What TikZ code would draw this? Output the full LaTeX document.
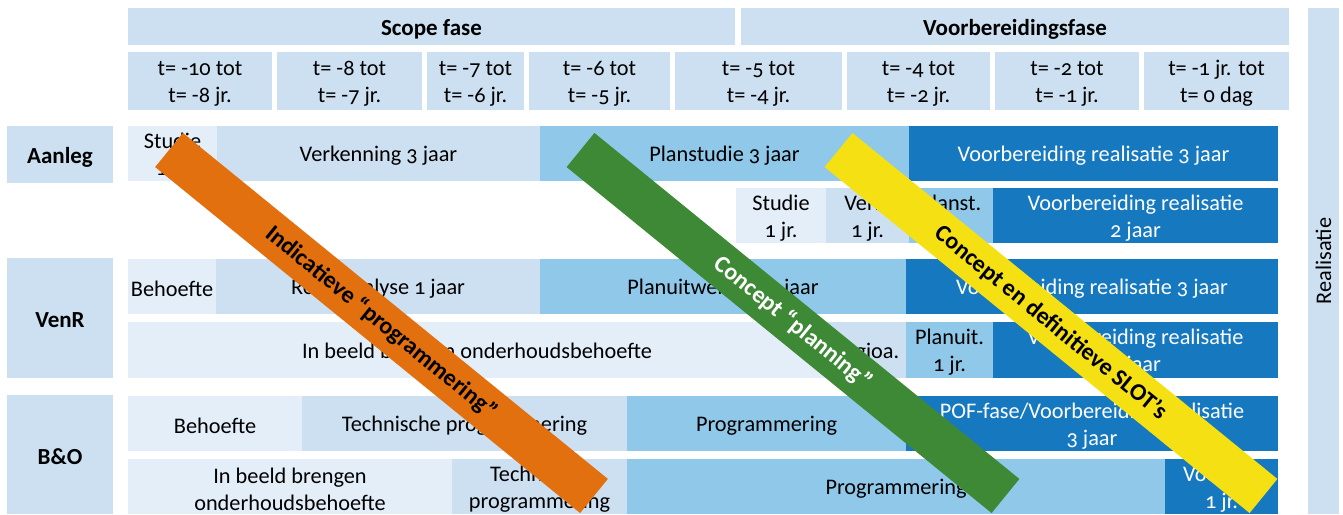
\documentclass[tikz,border=0pt]{standalone}
\usepackage{fontspec}
\setmainfont{Carlito}[Numbers=OldStyle]

\definecolor{tintA}{HTML}{E3EEF8}
\definecolor{tintB}{HTML}{CCE0F1}
\definecolor{tintC}{HTML}{8FC8E8}
\definecolor{tintD}{HTML}{1679C0}
\definecolor{bandOrange}{HTML}{E2700E}
\definecolor{bandGreen}{HTML}{3D8935}
\definecolor{bandYellow}{HTML}{F5E014}

% \cellbox{style}{name}{x1}{y1}{x2}{y2}{text}
% the box is filled first, its text is set slightly below the centre
\newcommand\cellbox[7]{%
  \node[#1, minimum width={#5-#3}, minimum height={#6-#4}] (#2)
    at ({(#3+#5)/2},{(#4+#6)/2}) {};
  \node[#1, fill=none, yshift=-2.5pt] (#2-txt) at (#2.center) {#7};}

\begin{document}
\begin{tikzpicture}[x=1pt,y=-1pt,
  every node/.style={inner sep=0pt, outer sep=0pt},
  cell/.style={rectangle, align=center, text=black,
    font=\fontsize{22.3}{27}\selectfont},
  lightest/.style={cell, fill=tintA},
  light/.style={cell, fill=tintB},
  medium/.style={cell, fill=tintC},
  dark/.style={cell, fill=tintD, text=white},
  headbox/.style={light, font=\bfseries\fontsize{23}{27}\selectfont},
  band/.style={rectangle, minimum width=548, minimum height=44,
    rotate=-39.15, font=\bfseries\fontsize{24}{28}\selectfont}
]
\useasboundingbox (0,0) rectangle (1343,514);

% phase headers
\cellbox{headbox}{scope}{128}{8}{735}{45}{Scope fase}
\cellbox{headbox}{voorb}{741}{8}{1289}{45}{Voorbereidingsfase}

% time columns
\cellbox{light}{t1}{128}{52}{272}{110}{t= -10 tot\\t= -8 jr.}
\cellbox{light}{t2}{277}{52}{422}{110}{t= -8 tot\\t= -7 jr.}
\cellbox{light}{t3}{427}{52}{524}{110}{t= -7 tot\\t= -6 jr.}
\cellbox{light}{t4}{529}{52}{670}{110}{t= -6 tot\\t= -5 jr.}
\cellbox{light}{t5}{675}{52}{842}{110}{t= -5 tot\\t= -4 jr.}
\cellbox{light}{t6}{847}{52}{990}{110}{t= -4 tot\\t= -2 jr.}
\cellbox{light}{t7}{995}{52}{1139}{110}{t= -2 tot\\t= -1 jr.}
\cellbox{light}{t8}{1144}{52}{1289}{110}{t= -1 jr. tot\\t= 0 dag}

% realisation bar
\node[light, minimum width=31, minimum height=506] (realbar) at (1323.5,261) {};
\node[rotate=90, font=\fontsize{22.3}{27}\selectfont] (realtext)
  at (realbar.center) {Realisatie};

% row labels
\cellbox{headbox}{aanleg}{7}{126}{113}{183}{Aanleg}
\cellbox{headbox}{venr}{7}{258}{113}{378}{VenR}
\cellbox{headbox}{beno}{7}{395}{113}{514}{B\&O}

% Aanleg
\cellbox{lightest}{a1}{128}{126}{217}{181}{Studie\\1 jr.}
\cellbox{light}{a2}{217}{126}{540}{181}{Verkenning 3 jaar}
\cellbox{medium}{a3}{540}{126}{909}{181}{Planstudie 3 jaar}
\cellbox{dark}{a4}{909}{126}{1278}{181}{Voorbereiding realisatie 3 jaar}
\cellbox{lightest}{b1}{736}{188}{826}{243}{Studie\\1 jr.}
\cellbox{light}{b2}{826}{188}{909}{243}{Verk.\\1 jr.}
\cellbox{medium}{b3}{909}{188}{993}{243}{Planst.\\1 jr.}
\cellbox{dark}{b4}{993}{188}{1278}{243}{Voorbereiding realisatie\\2 jaar}

% VenR
\cellbox{lightest}{c1}{128}{259}{216}{314}{Behoefte}
\cellbox{light}{c2}{216}{259}{540}{314}{Regioanalyse 1 jaar}
\cellbox{medium}{c3}{540}{259}{906}{314}{Planuitwerking 3 jaar}
\cellbox{dark}{c4}{906}{259}{1278}{314}{Voorbereiding realisatie 3 jaar}
\cellbox{lightest}{d1}{128}{322}{826}{378}{In beeld brengen onderhoudsbehoefte}
\cellbox{light}{d2}{826}{322}{906}{378}{Regioa.}
\cellbox{medium}{d3}{906}{322}{993}{378}{Planuit.\\1 jr.}
\cellbox{dark}{d4}{993}{322}{1278}{378}{Voorbereiding realisatie\\2 jaar}

% B&O
\cellbox{lightest}{e1}{128}{396}{302}{451}{Behoefte}
\cellbox{light}{e2}{302}{396}{627}{451}{Technische programmering}
\cellbox{medium}{e3}{627}{396}{906}{451}{Programmering}
\cellbox{dark}{e4}{906}{396}{1278}{451}{POF-fase/Voorbereiding realisatie\\3 jaar}
\cellbox{lightest}{f1}{128}{459}{452}{514}{In beeld brengen\\onderhoudsbehoefte}
\cellbox{light}{f2}{452}{459}{627}{514}{Technische\\programmering}
\cellbox{medium}{f3}{627}{459}{1165}{514}{Programmering}
\cellbox{dark}{f4}{1165}{459}{1278}{514}{Voorber.\\1 jr.}

% diagonal bands
\node[band, fill=bandOrange, text=black] (orangeband) at (381.5,323)
  {Indicatieve “programmering”};
\node[band, fill=bandGreen, text=white] (greenband) at (793,323)
  {Concept “planning”};
\node[band, fill=bandYellow, text=black] (yellowband) at (1051,323)
  {Concept en definitieve SLOT’s};
\end{tikzpicture}
\end{document}
